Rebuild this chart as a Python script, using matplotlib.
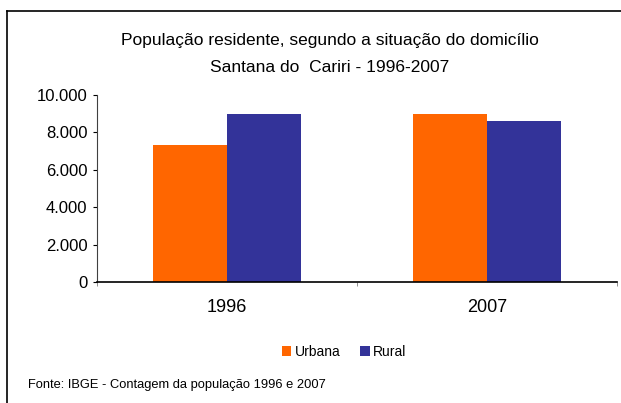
import matplotlib.pyplot as plt
from matplotlib.lines import Line2D
from matplotlib.ticker import FuncFormatter
import numpy as np

plt.rcParams['font.family'] = ['Liberation Sans', 'DejaVu Sans']

years = ["1996", "2007"]
urbana = [7330, 8990]
rural = [8990, 8610]
yticks = [0, 2000, 4000, 6000, 8000, 10000]

W, H = 621, 403
fig = plt.figure(figsize=(W / 100, H / 100), dpi=100)
ax = fig.add_axes([97 / W, (H - 282) / H, 520 / W, 187 / H])

x = np.arange(len(years))
bw = 0.285
ax.bar(x - bw / 2, urbana, bw, color="#FF6600", label="Urbana")
ax.bar(x + bw / 2, rural, bw, color="#333399", label="Rural")

ax.set_xlim(-0.5, 1.5)
ax.set_ylim(0, 10000)
ax.set_yticks(yticks)
ax.yaxis.set_major_formatter(FuncFormatter(lambda v, p: f"{int(v):,}".replace(",", ".")))
ax.tick_params(axis="y", length=3, width=0.8, labelsize=12, pad=4)

ax.set_xticks(x)
ax.set_xticklabels(years, fontsize=13)
ax.tick_params(axis="x", length=0, pad=12)
ax.set_xticks([-0.5, 0.5, 1.5], minor=True)
ax.tick_params(axis="x", which="minor", length=3, color="#808080")

for s in ["top", "right"]:
    ax.spines[s].set_visible(False)
ax.spines["left"].set_color("#404040")
ax.spines["bottom"].set_linewidth(1.2)

fig.text(330 / W, 1 - 41 / H, "População residente, segundo a situação do domicílio",
         ha="center", va="center", fontsize=12.5)
fig.text(330 / W, 1 - 67 / H, "Santana do  Cariri - 1996-2007",
         ha="center", va="center", fontsize=12.5)

fig.legend(loc="center", bbox_to_anchor=(344 / W, 1 - 352 / H), ncol=2, frameon=False,
           fontsize=10, handlelength=0.7, handleheight=0.7, handletextpad=0.25,
           columnspacing=1.4)

fig.text(28 / W, 1 - 385 / H, "Fonte: IBGE - Contagem da população 1996 e 2007",
         ha="left", va="center", fontsize=9.3)

fig.add_artist(Line2D([7 / W, 1], [1 - 11 / H, 1 - 11 / H], color="black", lw=1.2,
                      transform=fig.transFigure))
fig.add_artist(Line2D([7 / W, 7 / W], [1 - 11 / H, 0], color="black", lw=1.2,
                      transform=fig.transFigure))

fig.savefig("out.png", dpi=100)
